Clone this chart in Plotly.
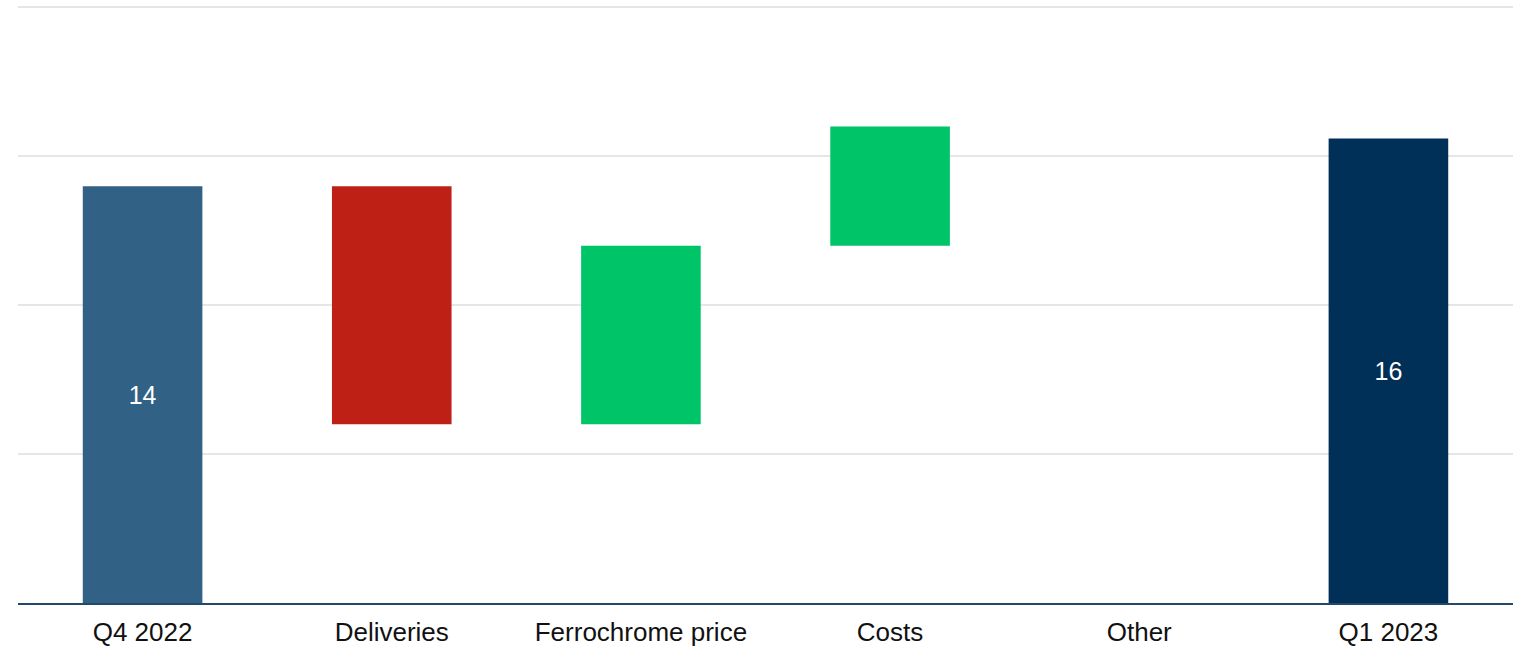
import plotly.graph_objects as go

# Bridge from Q4 2022 to Q1 2023
categories = ["Q4 2022", "Deliveries", "Ferrochrome price", "Costs", "Other", "Q1 2023"]
opening_value = 14.0
change_values = [-8.0, 6.0, 4.0, 0.0]   # Deliveries, Ferrochrome price, Costs, Other
closing_value = 15.6

opening_color = "#316185"
closing_color = "#003057"
increase_color = "#00C468"
decrease_color = "#BE2016"

# floating bars: each change starts where the running total ended
bases = [0.0]
heights = [opening_value]
colors = [opening_color]
running = opening_value
for c in change_values:
    bases.append(running)
    heights.append(c)
    colors.append(increase_color if c >= 0 else decrease_color)
    running += c
bases.append(0.0)
heights.append(closing_value)
colors.append(closing_color)

labels = [f"{opening_value:.0f}"] + [""] * len(change_values) + [f"{closing_value:.0f}"]

fig = go.Figure(
    go.Bar(
        x=categories,
        y=heights,
        base=bases,
        marker=dict(color=colors, line=dict(width=0)),
        width=0.48,
        text=labels,
        textposition="inside",
        insidetextanchor="middle",
        textangle=0,
        textfont=dict(color="white", size=25, family="Liberation Sans, Arial, sans-serif"),
        hoverinfo="skip",
    )
)

fig.update_layout(
    width=1516,
    height=648,
    margin=dict(l=18, r=3, t=3, b=45),
    plot_bgcolor="white",
    paper_bgcolor="white",
    showlegend=False,
    font=dict(family="Liberation Sans, Arial, sans-serif", size=26, color="#111111"),
    uniformtext=dict(mode=False),
)
fig.update_xaxes(
    showline=True,
    linecolor="#24486C",
    linewidth=2,
    showgrid=False,
    ticks="outside",
    ticklen=5,
    tickcolor="rgba(0,0,0,0)",
    tickfont=dict(size=26, color="#111111"),
    automargin=False,
)
fig.update_yaxes(
    range=[0, 20.15],
    dtick=5,
    showticklabels=False,
    showgrid=True,
    gridcolor="#E6E6E6",
    gridwidth=2,
    zeroline=False,
    automargin=False,
)

fig.write_html("out.html")
